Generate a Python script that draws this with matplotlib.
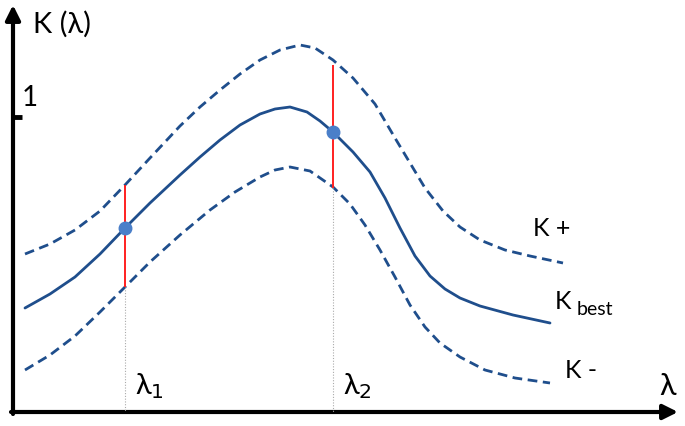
import matplotlib.pyplot as plt
from matplotlib.patches import FancyArrowPatch

plt.rcParams['font.family'] = ['Lato', 'DejaVu Sans']

# curve samples (x, y in picture units, y grows downward)
x_best = [25, 50, 75, 100, 125, 150, 180, 200, 220, 240, 260, 275, 290, 307, 320, 333, 353, 370, 385, 400, 415, 430, 445, 460, 480, 513, 550]
y_best = [308, 294, 277, 254, 228, 203, 175, 157, 140, 125, 114, 109, 107, 112, 121, 132, 152, 172, 198, 228, 256, 276, 289, 298, 306, 315, 323]

x_plus = [25, 50, 75, 100, 125, 150, 180, 200, 220, 240, 260, 280, 300, 315, 333, 353, 375, 395, 410, 425, 443, 460, 480, 505, 530, 563]
y_plus = [254, 244, 230, 211, 185, 158, 126, 107, 90, 74, 60, 50, 45, 48, 60, 78, 104, 138, 163, 188, 211, 227, 240, 250, 256, 263]

x_minus = [25, 50, 75, 100, 125, 150, 180, 210, 235, 260, 275, 290, 310, 333, 350, 365, 380, 395, 410, 425, 440, 460, 485, 515, 550]
y_minus = [370, 355, 336, 312, 287, 262, 235, 210, 192, 177, 170, 167, 171, 187, 204, 225, 250, 277, 305, 327, 343, 357, 370, 378, 383]

lam_x = [125, 333]
lam_best = [228, 132]
lam_plus = [185, 65]
lam_minus = [287, 188]
lam_labels = ['λ$_1$', 'λ$_2$']

blue = '#1f4e8c'

fig = plt.figure(figsize=(6.85, 4.26), dpi=100)
ax = fig.add_axes([0, 0, 1, 1])
ax.set_xlim(0, 685)
ax.set_ylim(426, 0)
ax.axis('off')

ax.plot(x_best, y_best, color=blue, lw=2, solid_capstyle='round', solid_joinstyle='round')
ax.plot(x_plus, y_plus, color=blue, lw=2, ls=(0, (3.5, 2)))
ax.plot(x_minus, y_minus, color=blue, lw=2, ls=(0, (3.5, 2)))

for xv, yb, yp, ym, lab in zip(lam_x, lam_best, lam_plus, lam_minus, lam_labels):
    ax.vlines(xv, ym, 412, color='#aaaaaa', lw=0.8, ls=(0, (1, 1.5)))
    ax.vlines(xv, yp, ym, color='#ff2020', lw=1.4)
    ax.plot(xv, yb, 'o', color='#4a7fc9', ms=9, zorder=5)
    ax.text(xv + 10, 394, lab, fontsize=21, ha='left', va='baseline')

# axes with arrows
ax.add_patch(FancyArrowPatch((13, 414), (13, 5), arrowstyle='-|>', mutation_scale=22,
                             color='black', lw=3, shrinkA=0, shrinkB=0))
ax.add_patch(FancyArrowPatch((11, 412), (678, 412), arrowstyle='-|>', mutation_scale=22,
                             color='black', lw=3, shrinkA=0, shrinkB=0))
ax.plot([13, 22], [117, 117], color='black', lw=3.5, solid_capstyle='butt')

ax.text(33, 33, 'K (λ)', fontsize=21, ha='left', va='baseline')
ax.text(22, 106, '1', fontsize=20, ha='left', va='baseline')
ax.text(659, 395, 'λ', fontsize=22, ha='left', va='baseline')
ax.text(533, 236, 'K +', fontsize=18, ha='left', va='baseline')
ax.text(555, 309, 'K', fontsize=18, ha='left', va='baseline')
ax.text(577, 315, 'best', fontsize=14, ha='left', va='baseline')
ax.text(565, 378, 'K -', fontsize=18, ha='left', va='baseline')

fig.savefig('out.png', dpi=100)
